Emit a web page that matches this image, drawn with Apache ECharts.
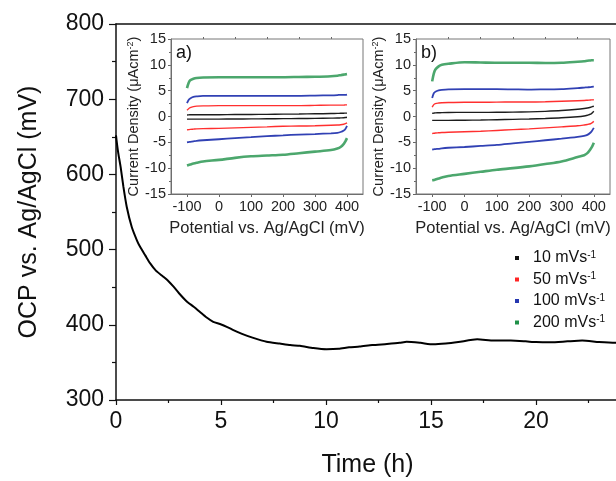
<!DOCTYPE html>
<html><head><meta charset="utf-8">
<script src="https://cdn.jsdelivr.net/npm/echarts@6/dist/echarts.min.js"></script>
<style>html,body{margin:0;padding:0;background:#fff}#c{width:616px;height:481px}</style>
</head><body><div id="c"></div>
<script>
// ---- main OCP curve ----
const ocpTime  = [0, 0.05, 0.11, 0.22, 0.35, 0.51, 0.75, 1.0, 1.14, 1.4, 1.62, 1.9, 2.25, 2.5, 2.73, 3.0, 3.37, 3.7, 4.0, 4.3, 4.63, 4.95, 5.3, 5.59, 6.0, 6.5, 7.17, 7.8, 8.3, 8.76, 9.4, 10.03, 10.6, 11.1, 11.6, 12.2, 12.9, 13.5, 13.84, 14.5, 15.1, 15.7, 16.3, 17.2, 18.0, 18.8, 19.5, 20.0, 20.7, 21.5, 22.2, 23.0, 23.8, 24.5];
const ocpValue = [652, 640, 628, 610, 584, 557, 530, 512, 504, 492, 482, 472, 464, 458, 451, 442, 431, 424, 417, 410, 404, 401, 397, 393, 388, 383, 377.5, 375, 373, 372, 369, 367.4, 368, 370, 371, 373, 374.5, 376, 377.5, 376, 374, 375, 377, 380.7, 379, 379, 378, 377, 376.7, 378, 379, 377, 376, 377];
const mainXTicks = [0, 5, 10, 15, 20];
// ---- inset CV data ----
const potential = [-100, -95, -90, -80, -70, -50, 0, 50, 100, 150, 200, 250, 300, 350, 370, 380, 390, 395, 400];
const scanRates = ['10', '50', '100', '200'];
// inset a)
const a10Up  = [0.3, 0.32, 0.33, 0.35, 0.35, 0.35, 0.35, 0.38, 0.4, 0.42, 0.45, 0.48, 0.52, 0.57, 0.6, 0.62, 0.64, 0.65, 0.66];
const a10Lo  = [-0.5, -0.5, -0.5, -0.5, -0.5, -0.5, -0.5, -0.48, -0.46, -0.44, -0.42, -0.4, -0.37, -0.32, -0.3, -0.27, -0.24, -0.2, -0.15];
const a50Up  = [1.2, 1.5, 1.7, 1.9, 2.0, 2.05, 2.1, 2.1, 2.1, 2.1, 2.1, 2.1, 2.15, 2.2, 2.2, 2.2, 2.2, 2.25, 2.25];
const a50Lo  = [-2.6, -2.55, -2.5, -2.45, -2.4, -2.35, -2.3, -2.2, -2.1, -2.0, -1.9, -1.85, -1.8, -1.7, -1.65, -1.6, -1.5, -1.4, -1.2];
const a100Up = [2.6, 3.2, 3.5, 3.8, 3.9, 4.0, 4.0, 4.0, 4.0, 4.0, 4.0, 4.0, 4.05, 4.1, 4.15, 4.2, 4.2, 4.2, 4.25];
const a100Lo = [-5.0, -4.95, -4.9, -4.8, -4.7, -4.6, -4.4, -4.2, -4.0, -3.8, -3.65, -3.5, -3.4, -3.25, -3.15, -3.0, -2.7, -2.4, -1.8];
const a200Up = [5.5, 6.5, 7.0, 7.3, 7.45, 7.55, 7.6, 7.6, 7.6, 7.6, 7.6, 7.65, 7.7, 7.8, 7.9, 8.0, 8.1, 8.15, 8.2];
const a200Lo = [-9.5, -9.4, -9.3, -9.1, -8.95, -8.7, -8.4, -8.0, -7.7, -7.55, -7.4, -7.1, -6.8, -6.5, -6.2, -5.9, -5.3, -4.8, -4.2];
// inset b)
const b10Up  = [0.6, 0.65, 0.7, 0.72, 0.75, 0.78, 0.8, 0.8, 0.82, 0.85, 0.9, 1.0, 1.15, 1.4, 1.55, 1.65, 1.8, 1.9, 2.0];
const b10Lo  = [-0.75, -0.75, -0.75, -0.75, -0.75, -0.75, -0.72, -0.68, -0.62, -0.55, -0.48, -0.38, -0.25, -0.05, 0.1, 0.25, 0.45, 0.7, 1.0];
const b50Up  = [1.8, 2.3, 2.5, 2.6, 2.65, 2.7, 2.75, 2.75, 2.78, 2.8, 2.8, 2.85, 2.95, 3.05, 3.1, 3.15, 3.2, 3.22, 3.25];
const b50Lo  = [-3.3, -3.25, -3.2, -3.15, -3.1, -3.05, -2.95, -2.85, -2.7, -2.55, -2.4, -2.2, -2.0, -1.8, -1.65, -1.55, -1.4, -1.2, -0.95];
const b100Up = [3.6, 4.5, 4.8, 5.05, 5.15, 5.25, 5.3, 5.3, 5.3, 5.25, 5.2, 5.25, 5.3, 5.5, 5.6, 5.65, 5.7, 5.75, 5.8];
const b100Lo = [-6.4, -6.35, -6.3, -6.25, -6.15, -6.05, -5.9, -5.7, -5.5, -5.2, -4.9, -4.6, -4.3, -3.95, -3.75, -3.55, -3.1, -2.7, -2.2];
const b200Up = [6.8, 8.3, 9.1, 9.7, 10.0, 10.2, 10.5, 10.45, 10.4, 10.4, 10.4, 10.35, 10.4, 10.6, 10.7, 10.8, 10.85, 10.9, 10.9];
const b200Lo = [-12.35, -12.3, -12.2, -12.0, -11.8, -11.5, -11.1, -10.7, -10.3, -10.0, -9.65, -9.2, -8.7, -7.85, -7.5, -7.1, -6.3, -5.8, -5.1];
const insetXTicks = [-100, 0, 100, 200, 300, 400];
const insetXMinor = [-50, 50, 150, 250, 350];

const FONT = 'Liberation Sans, Arial, sans-serif';
const colors = {'10': '#111111', '50': '#ff2424', '100': '#2637b0', '200': '#1f9148'};
const widths = {'10': 1.4, '50': 1.4, '100': 1.8, '200': 2.6};

const chart = echarts.init(document.getElementById('c'), null, {renderer: 'canvas'});

function cv(rate, vals, idx) {
  return {
    name: rate, type: 'line', xAxisIndex: idx.x, yAxisIndex: idx.y,
    data: potential.map((p, i) => [p, vals[i]]),
    showSymbol: false, symbol: 'none', smooth: 0.3,
    lineStyle: {color: colors[rate], width: widths[rate], opacity: rate === '200' ? 0.8 : 0.95},
    itemStyle: {color: colors[rate]}, silent: true, z: 5
  };
}
const A = {x: 2, y: 1}, B = {x: 4, y: 2};
const insetSeries = [
  cv('10', a10Up, A), cv('10', a10Lo, A), cv('50', a50Up, A), cv('50', a50Lo, A),
  cv('100', a100Up, A), cv('100', a100Lo, A), cv('200', a200Up, A), cv('200', a200Lo, A),
  cv('10', b10Up, B), cv('10', b10Lo, B), cv('50', b50Up, B), cv('50', b50Lo, B),
  cv('100', b100Up, B), cv('100', b100Lo, B), cv('200', b200Up, B), cv('200', b200Lo, B)
];

const supRich = {
  s: {fontSize: 9, verticalAlign: 'top', lineHeight: 10, fontFamily: FONT, color: '#222'}
};

function insetX(grid, show) {
  return {
    type: 'value', gridIndex: grid, min: -150, max: 450, interval: 50,
    axisLine: {show: show, onZero: false, lineStyle: {color: '#666', width: 1}},
    axisTick: show ? {show: true, length: 3, customValues: insetXTicks, lineStyle: {color: '#666'}}
                   : {show: true, length: 2, customValues: insetXMinor, lineStyle: {color: '#666'}},
    axisLabel: show ? {show: true, customValues: insetXTicks, fontSize: 14.5, color: '#222', margin: 5, fontFamily: FONT}
                    : {show: false},
    splitLine: {show: false},
    name: show ? 'Potential vs. Ag/AgCl (mV)' : '',
    nameLocation: 'middle', nameGap: 26,
    nameTextStyle: {fontSize: 16.5, color: '#222', fontFamily: FONT}
  };
}
function insetY(grid) {
  return {
    type: 'value', gridIndex: grid, min: -15, max: 15, interval: 5,
    axisLine: {show: true, onZero: false, lineStyle: {color: '#666', width: 1}},
    axisTick: {show: true, length: 3, lineStyle: {color: '#666'}},
    minorTick: {show: true, splitNumber: 2, length: 2, lineStyle: {color: '#666'}},
    axisLabel: {fontSize: 14.5, color: '#222', margin: 5, fontFamily: FONT},
    splitLine: {show: false},
    name: 'Current Density (μAcm{s|-2})', nameLocation: 'middle', nameGap: 25, nameRotate: 90,
    nameTextStyle: {fontSize: 14.5, color: '#222', fontFamily: FONT, rich: supRich}
  };
}

const option = {
  animation: false,
  backgroundColor: '#fff',
  textStyle: {fontFamily: FONT},
  grid: [
    {left: 116, top: 24, width: 525, height: 376, outerBoundsMode: 'none', containLabel: false},
    {left: 171, top: 39, width: 192, height: 155, outerBoundsMode: 'none', show: true, borderColor: '#777', borderWidth: 1, backgroundColor: 'transparent', z: 3},
    {left: 416, top: 39, width: 194, height: 155, outerBoundsMode: 'none', show: true, borderColor: '#777', borderWidth: 1, backgroundColor: 'transparent', z: 3}
  ],
  xAxis: [
    {
      type: 'value', gridIndex: 0, min: 0, max: 25, interval: 5, position: 'bottom',
      axisLine: {onZero: false, lineStyle: {color: '#111', width: 1.5}},
      axisTick: {length: 5, lineStyle: {color: '#111', width: 1.2}},
      minorTick: {show: true, splitNumber: 2, length: 3, lineStyle: {color: '#111', width: 1.2}},
      axisLabel: {fontSize: 23, color: '#111', margin: 10, fontFamily: FONT,
        formatter: v => mainXTicks.indexOf(v) >= 0 ? String(v) : ''},
      splitLine: {show: false},
      name: 'Time (h)', nameLocation: 'middle', nameGap: 53,
      nameTextStyle: {fontSize: 25, color: '#111', fontFamily: FONT, padding: [0, 22, 0, 0]}
    },
    {
      type: 'value', gridIndex: 0, min: 0, max: 25, position: 'top',
      axisLine: {show: true, onZero: false, lineStyle: {color: '#111', width: 1.5}},
      axisTick: {show: false}, axisLabel: {show: false}, splitLine: {show: false}
    },
    insetX(1, true), insetX(1, false),
    insetX(2, true), insetX(2, false)
  ],
  yAxis: [
    {
      type: 'value', gridIndex: 0, min: 300, max: 800, interval: 100,
      axisLine: {show: true, onZero: false, lineStyle: {color: '#111', width: 1.5}},
      axisTick: {show: true, length: 7, lineStyle: {color: '#111', width: 1.2}},
      minorTick: {show: true, splitNumber: 2, length: 4, lineStyle: {color: '#111', width: 1.2}},
      axisLabel: {fontSize: 23, color: '#111', margin: 12, fontFamily: FONT},
      splitLine: {show: false},
      name: 'OCP vs. Ag/AgCl (mV)', nameLocation: 'middle', nameGap: 74, nameRotate: 90,
      nameTextStyle: {fontSize: 25, color: '#111', fontFamily: FONT}
    },
    insetY(1), insetY(2)
  ],
  legend: {
    orient: 'vertical', left: 510, top: 245,
    data: scanRates, icon: 'rect', itemWidth: 4, itemHeight: 4, itemGap: 5.5,
    selectedMode: false,
    formatter: n => '{t|' + n + ' mVs}{s|-1}',
    textStyle: {
      rich: {
        t: {fontSize: 16, color: '#111', fontFamily: FONT, lineHeight: 16, padding: [0, 0, 0, 9]},
        s: {fontSize: 10, color: '#111', fontFamily: FONT, lineHeight: 10, verticalAlign: 'top'}
      }
    }
  },
  graphic: [
    {type: 'text', left: 176, top: 44, style: {text: 'a)', font: '18px ' + FONT, fill: '#111'}, z: 10},
    {type: 'text', left: 421, top: 44, style: {text: 'b)', font: '18px ' + FONT, fill: '#111'}, z: 10}
  ],
  series: [
    {
      name: 'OCP', type: 'line', xAxisIndex: 0, yAxisIndex: 0,
      data: ocpTime.map((t, i) => [t, ocpValue[i]]),
      showSymbol: false, symbol: 'none', smooth: 0.2,
      lineStyle: {color: '#000', width: 2}, silent: true, clip: true
    }
  ].concat(insetSeries)
};
chart.setOption(option);
</script></body></html>
